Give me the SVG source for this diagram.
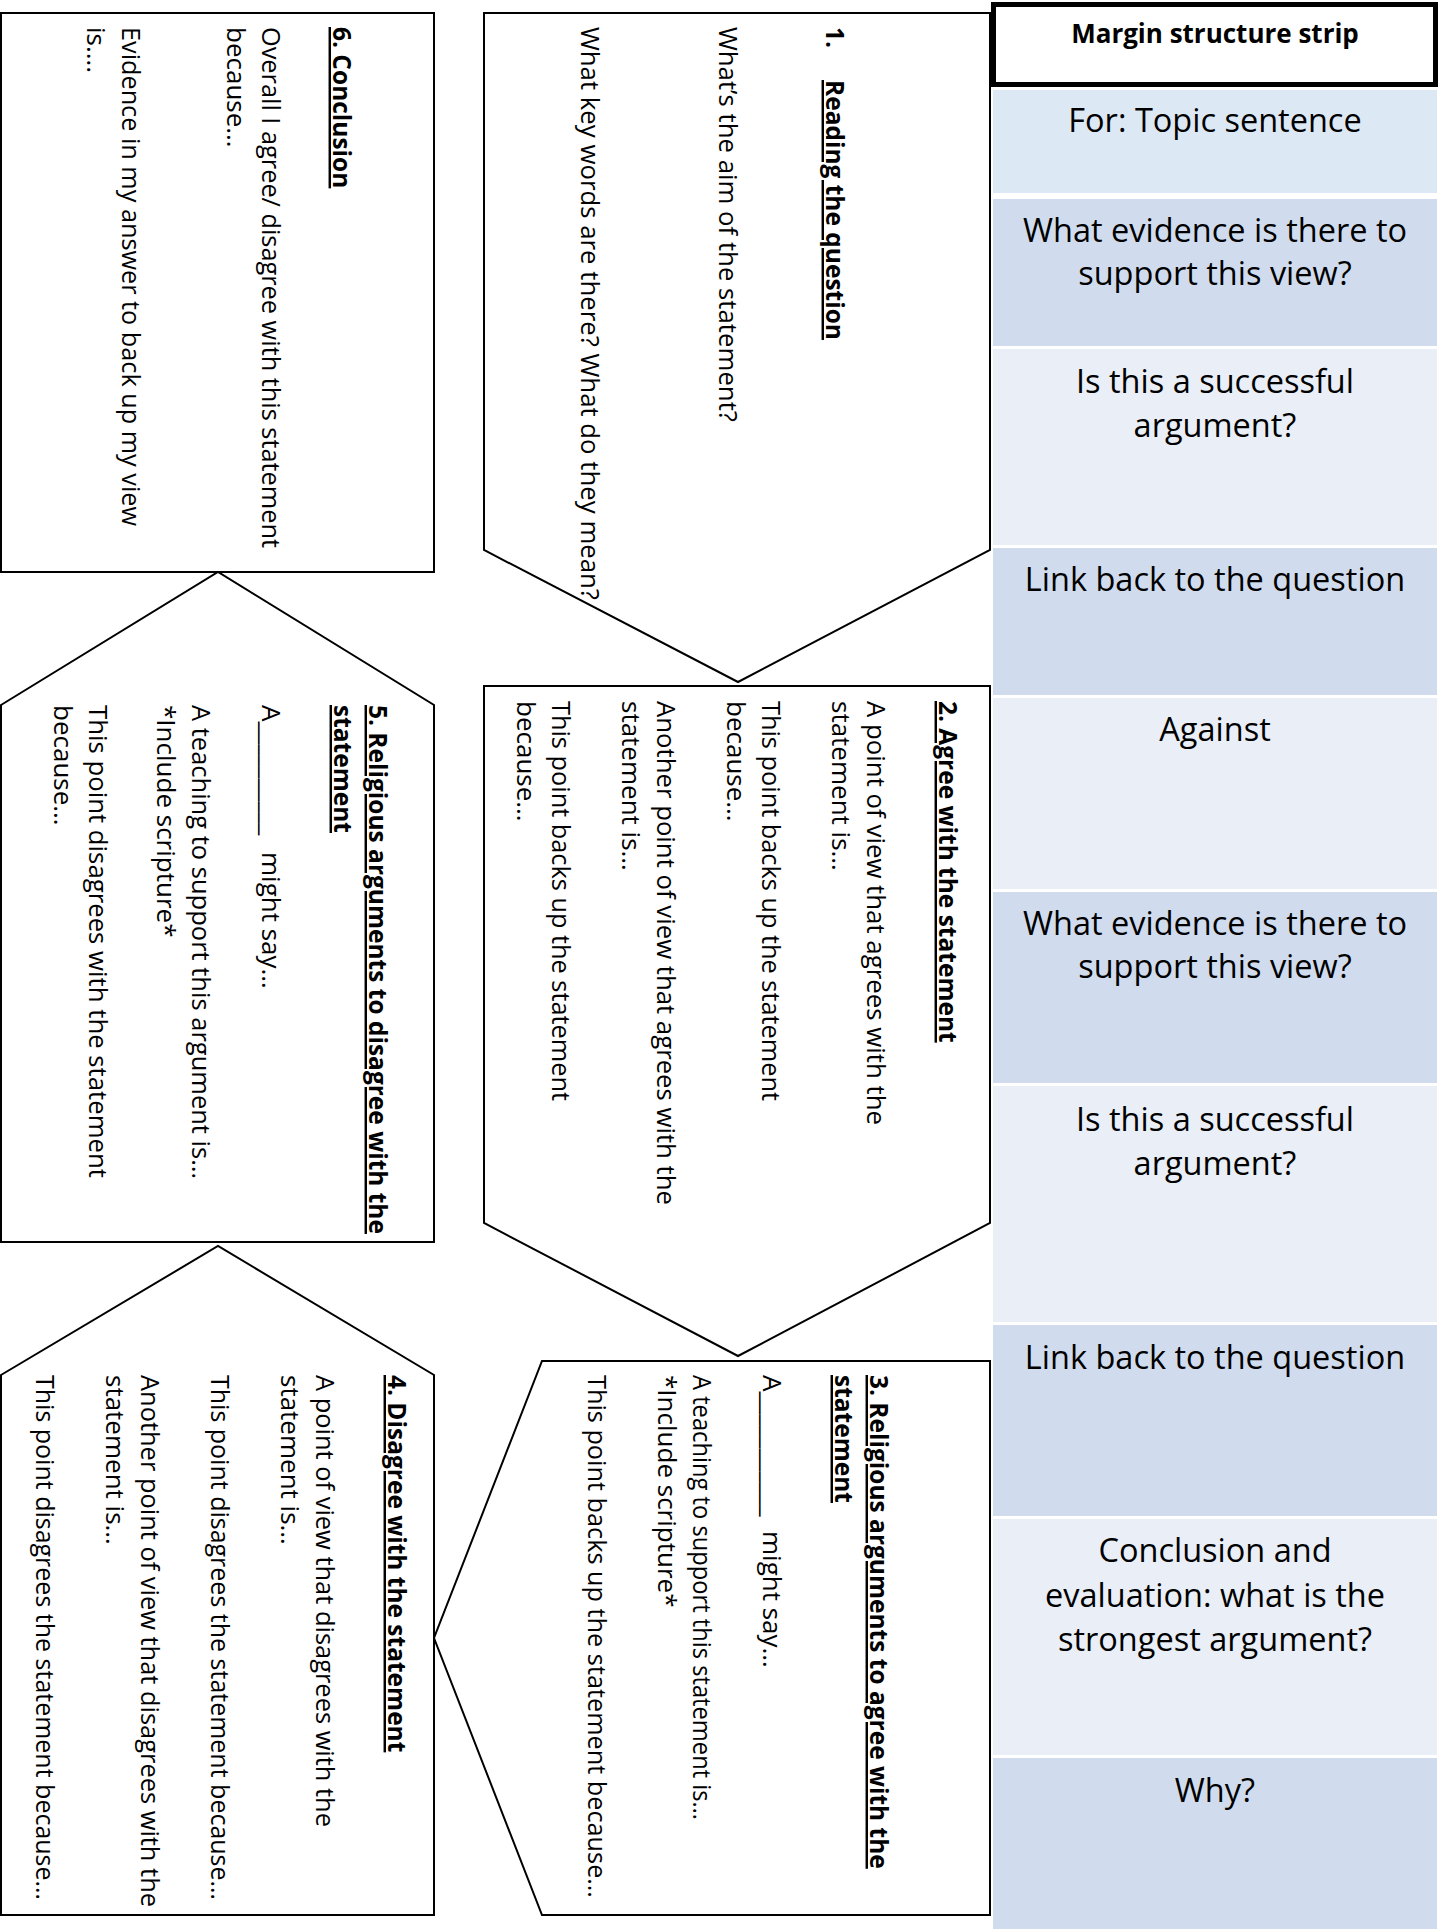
<svg xmlns="http://www.w3.org/2000/svg" width="1440" height="1929" viewBox="0 0 1440 1929">
<style>
.shape{fill:#fff;stroke:#000;stroke-width:2}
.t{font-family:"Open Sans","Noto Sans","DejaVu Sans",sans-serif;font-size:26px;fill:#000}
.h{font-family:"Open Sans","Noto Sans","DejaVu Sans",sans-serif;font-size:24.5px;font-weight:700;fill:#000}
.u{text-decoration:underline}
.st{font-family:"Open Sans","Noto Sans","DejaVu Sans",sans-serif;font-size:32.5px;text-anchor:middle;fill:#000}
.sth{font-family:"Open Sans","Noto Sans","DejaVu Sans",sans-serif;font-size:26px;font-weight:700;text-anchor:middle;fill:#000}
.c0{fill:#dde8f5}
.cd{fill:#d0dcee}
.cl{fill:#e9eef7}
</style>
<rect width="1440" height="1929" fill="#fff"/>

<g id="strip">
  <g id="strip-header">
    <rect x="993.5" y="4.5" width="442" height="80" fill="#fff" stroke="#000" stroke-width="5"/>
    <text class="sth" x="1215" y="43">Margin structure strip</text>
  </g>
  <g id="cell-for">
    <rect class="c0" x="993" y="90" width="444" height="103"/>
    <text class="st" x="1215" y="132">For: Topic sentence</text>
  </g>
  <g id="cell-evidence-1">
    <rect class="cd" x="993" y="199" width="444" height="147"/>
    <text class="st" x="1215" y="242">What evidence is there to</text>
    <text class="st" x="1215" y="285">support this view?</text>
  </g>
  <g id="cell-success-1">
    <rect class="cl" x="993" y="349" width="444" height="196"/>
    <text class="st" x="1215" y="393">Is this a successful</text>
    <text class="st" x="1215" y="437">argument?</text>
  </g>
  <g id="cell-link-1">
    <rect class="cd" x="993" y="548" width="444" height="147"/>
    <text class="st" x="1215" y="591">Link back to the question</text>
  </g>
  <g id="cell-against">
    <rect class="cl" x="993" y="698" width="444" height="191"/>
    <text class="st" x="1215" y="741">Against</text>
  </g>
  <g id="cell-evidence-2">
    <rect class="cd" x="993" y="892" width="444" height="191"/>
    <text class="st" x="1215" y="935">What evidence is there to</text>
    <text class="st" x="1215" y="978">support this view?</text>
  </g>
  <g id="cell-success-2">
    <rect class="cl" x="993" y="1086" width="444" height="236"/>
    <text class="st" x="1215" y="1131">Is this a successful</text>
    <text class="st" x="1215" y="1175">argument?</text>
  </g>
  <g id="cell-link-2">
    <rect class="cd" x="993" y="1325" width="444" height="191"/>
    <text class="st" x="1215" y="1369">Link back to the question</text>
  </g>
  <g id="cell-conclusion">
    <rect class="cl" x="993" y="1519" width="444" height="236"/>
    <text class="st" x="1215" y="1562">Conclusion and</text>
    <text class="st" x="1215" y="1607">evaluation: what is the</text>
    <text class="st" x="1215" y="1651">strongest argument?</text>
  </g>
  <g id="cell-why">
    <rect class="cd" x="993" y="1758" width="444" height="171"/>
    <text class="st" x="1215" y="1802">Why?</text>
  </g>
</g>

<g id="connectors"></g>

<g id="node1">
  <polygon class="shape" points="484,13 990,13 990,550 738,682 484,550"/>
  <text class="h" transform="translate(826,27) rotate(90)">1.</text>
  <text class="h u" transform="translate(826,80) rotate(90)">Reading the question</text>
  <text class="t" transform="translate(719,27) rotate(90)" textLength="395" lengthAdjust="spacingAndGlyphs">What’s the aim of the statement?</text>
  <text class="t" transform="translate(581,27) rotate(90)" textLength="573" lengthAdjust="spacingAndGlyphs">What key words are there? What do they mean?</text>
</g>

<g id="node2">
  <polygon class="shape" points="484,686 990,686 990,1223 738,1356 484,1223"/>
  <text class="h u" transform="translate(939,701) rotate(90)">2. Agree with the statement</text>
  <text class="t" transform="translate(867,701) rotate(90)" textLength="424" lengthAdjust="spacingAndGlyphs">A point of view that agrees with the</text>
  <text class="t" transform="translate(832,701) rotate(90)">statement is…</text>
  <text class="t" transform="translate(762,701) rotate(90)" textLength="400" lengthAdjust="spacingAndGlyphs">This point backs up the statement</text>
  <text class="t" transform="translate(727,701) rotate(90)">because…</text>
  <text class="t" transform="translate(657,701) rotate(90)" textLength="504" lengthAdjust="spacingAndGlyphs">Another point of view that agrees with the</text>
  <text class="t" transform="translate(622,701) rotate(90)">statement is…</text>
  <text class="t" transform="translate(552,701) rotate(90)" textLength="400" lengthAdjust="spacingAndGlyphs">This point backs up the statement</text>
  <text class="t" transform="translate(517,701) rotate(90)">because…</text>
</g>

<g id="node3">
  <polygon class="shape" points="542,1361 990,1361 990,1915 542,1915 434,1638"/>
  <text class="h u" transform="translate(870,1375) rotate(90)">3. Religious arguments to agree with the</text>
  <text class="h u" transform="translate(835,1375) rotate(90)">statement</text>
  <text class="t" transform="translate(763,1375) rotate(90)">A___________</text>
  <text class="t" transform="translate(763,1531) rotate(90)">might say…</text>
  <text class="t" transform="translate(693,1375) rotate(90)" textLength="445" lengthAdjust="spacingAndGlyphs">A teaching to support this statement is…</text>
  <text class="t" transform="translate(658,1375) rotate(90)">*Include scripture*</text>
  <text class="t" transform="translate(588,1375) rotate(90)" textLength="523" lengthAdjust="spacingAndGlyphs">This point backs up the statement because…</text>
</g>

<g id="node4">
  <polygon class="shape" points="1,1375 218,1246 434,1375 434,1915 1,1915"/>
  <text class="h u" transform="translate(388,1375) rotate(90)">4. Disagree with the statement</text>
  <text class="t" transform="translate(316,1375) rotate(90)" textLength="452" lengthAdjust="spacingAndGlyphs">A point of view that disagrees with the</text>
  <text class="t" transform="translate(281,1375) rotate(90)">statement is…</text>
  <text class="t" transform="translate(211,1375) rotate(90)" textLength="525" lengthAdjust="spacingAndGlyphs">This point disagrees the statement because…</text>
  <text class="t" transform="translate(141,1375) rotate(90)" textLength="532" lengthAdjust="spacingAndGlyphs">Another point of view that disagrees with the</text>
  <text class="t" transform="translate(106,1375) rotate(90)">statement is…</text>
  <text class="t" transform="translate(36,1375) rotate(90)" textLength="525" lengthAdjust="spacingAndGlyphs">This point disagrees the statement because…</text>
</g>

<g id="node5">
  <polygon class="shape" points="1,705 218,572 434,705 434,1242 1,1242"/>
  <text class="h u" transform="translate(369,705) rotate(90)">5. Religious arguments to disagree with the</text>
  <text class="h u" transform="translate(334,705) rotate(90)">statement</text>
  <text class="t" transform="translate(262,705) rotate(90)">A__________</text>
  <text class="t" transform="translate(262,852) rotate(90)">might say…</text>
  <text class="t" transform="translate(192,705) rotate(90)" textLength="474" lengthAdjust="spacingAndGlyphs">A teaching to support this argument is…</text>
  <text class="t" transform="translate(157,705) rotate(90)">*Include scripture*</text>
  <text class="t" transform="translate(89,705) rotate(90)" textLength="473" lengthAdjust="spacingAndGlyphs">This point disagrees with the statement</text>
  <text class="t" transform="translate(54,705) rotate(90)">because…</text>
</g>

<g id="node6">
  <rect class="shape" x="1" y="13" width="433" height="559"/>
  <text class="h u" transform="translate(333,27) rotate(90)">6. Conclusion</text>
  <text class="t" transform="translate(262,27) rotate(90)" textLength="521" lengthAdjust="spacingAndGlyphs">Overall I agree/ disagree with this statement</text>
  <text class="t" transform="translate(227,27) rotate(90)">because…</text>
  <text class="t" transform="translate(122,27) rotate(90)" textLength="499" lengthAdjust="spacingAndGlyphs">Evidence in my answer to back up my view</text>
  <text class="t" transform="translate(87,27) rotate(90)">is….</text>
</g>
</svg>
